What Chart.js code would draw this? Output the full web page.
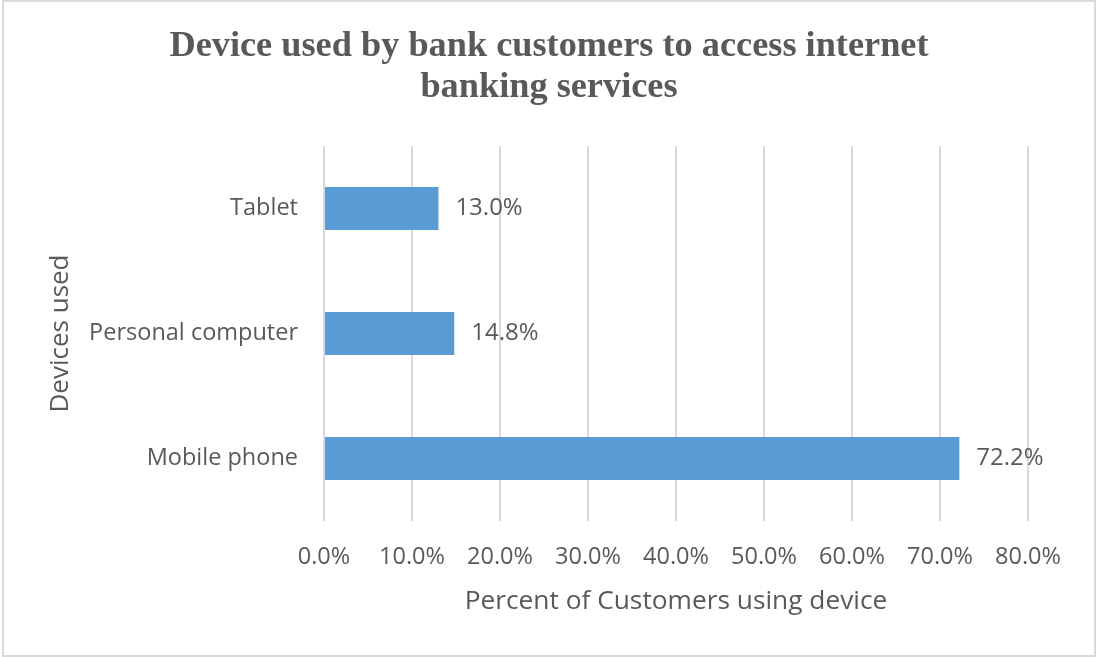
<!DOCTYPE html>
<html>
<head>
<meta charset="utf-8">
<script src="https://cdn.jsdelivr.net/npm/chart.js@4"></script>
<style>
  html, body { margin: 0; padding: 0; background: #fff; }
  #wrap { position: relative; width: 1096px; height: 657px; }
  #frame {
    position: absolute; left: 2px; top: 0; width: 1094px; height: 657px;
    box-sizing: border-box; border: 2px solid #d9d9d9; pointer-events: none;
  }
</style>
</head>
<body>
<div id="wrap">
  <canvas id="deviceChart" width="1096" height="657"></canvas>
  <div id="frame"></div>
</div>
<script>
// device categories, top to bottom as drawn
const devices = ['Tablet', 'Personal computer', 'Mobile phone'];
const percentUsing = [13.0, 14.8, 72.2];
const percentTicks = [0, 10, 20, 30, 40, 50, 60, 70, 80];
const titleLines = ['Device used by bank customers to access internet', 'banking services'];

const TEXT = '#595959';
const GRID = '#d9d9d9';
const BAR = '#5b9bd5';
const SANS = "'Open Sans', sans-serif";

// chart title, centred on the whole canvas rather than the plot area
const canvasTitle = {
    id: 'canvasTitle',
    afterDraw(chart) {
        const ctx = chart.ctx;
        ctx.save();
        ctx.font = "bold 36.3px 'Liberation Serif', serif";
        ctx.fillStyle = TEXT;
        ctx.textAlign = 'center';
        ctx.textBaseline = 'middle';
        titleLines.forEach((line, i) => {
            ctx.fillText(line, 549, 47 + i * 41);
        });
        ctx.restore();
    }
};

// value labels to the right of each bar
const barValueLabels = {
    id: 'barValueLabels',
    afterDatasetsDraw(chart) {
        const ctx = chart.ctx;
        const meta = chart.getDatasetMeta(0);
        ctx.save();
        ctx.font = `24px ${SANS}`;
        ctx.fillStyle = TEXT;
        ctx.textAlign = 'left';
        ctx.textBaseline = 'middle';
        meta.data.forEach((bar, i) => {
            ctx.fillText(percentUsing[i].toFixed(1) + '%', bar.x + 17, bar.y);
        });
        ctx.restore();
    }
};

new Chart(document.getElementById('deviceChart'), {
    type: 'bar',
    data: {
        labels: devices,
        datasets: [{
            data: percentUsing,
            backgroundColor: BAR,
            borderWidth: 0,
            categoryPercentage: 1,
            barPercentage: 0.345
        }]
    },
    options: {
        indexAxis: 'y',
        responsive: false,
        animation: false,
        layout: { padding: { left: 0, right: 68, top: 146, bottom: 0 } },
        plugins: {
            legend: { display: false },
            tooltip: { enabled: false },
            title: { display: false }
        },
        scales: {
            x: {
                min: 0,
                max: 80,
                afterBuildTicks: (scale) => {
                    scale.ticks = percentTicks.map(v => ({ value: v }));
                },
                afterFit: (scale) => { scale.height = 136; },
                grid: { color: GRID, lineWidth: 2, drawTicks: false },
                border: { display: false },
                ticks: {
                    color: TEXT,
                    font: { family: SANS, size: 23.5 },
                    padding: 22,
                    maxRotation: 0,
                    callback: (v) => Number(v).toFixed(1) + '%'
                },
                title: {
                    display: true,
                    text: 'Percent of Customers using device',
                    color: TEXT,
                    font: { family: SANS, size: 26.3 },
                    padding: { top: 0, bottom: 40 }
                }
            },
            y: {
                afterFit: (scale) => { scale.width = 324; },
                grid: { display: false, drawTicks: false },
                border: { display: false },
                ticks: {
                    color: TEXT,
                    font: { family: SANS, size: 23.5 },
                    padding: 26
                },
                title: {
                    display: true,
                    text: 'Devices used',
                    color: TEXT,
                    font: { family: SANS, size: 26 },
                    padding: { top: 45, bottom: 0 }
                }
            }
        }
    },
    plugins: [canvasTitle, barValueLabels]
});
</script>
</body>
</html>
